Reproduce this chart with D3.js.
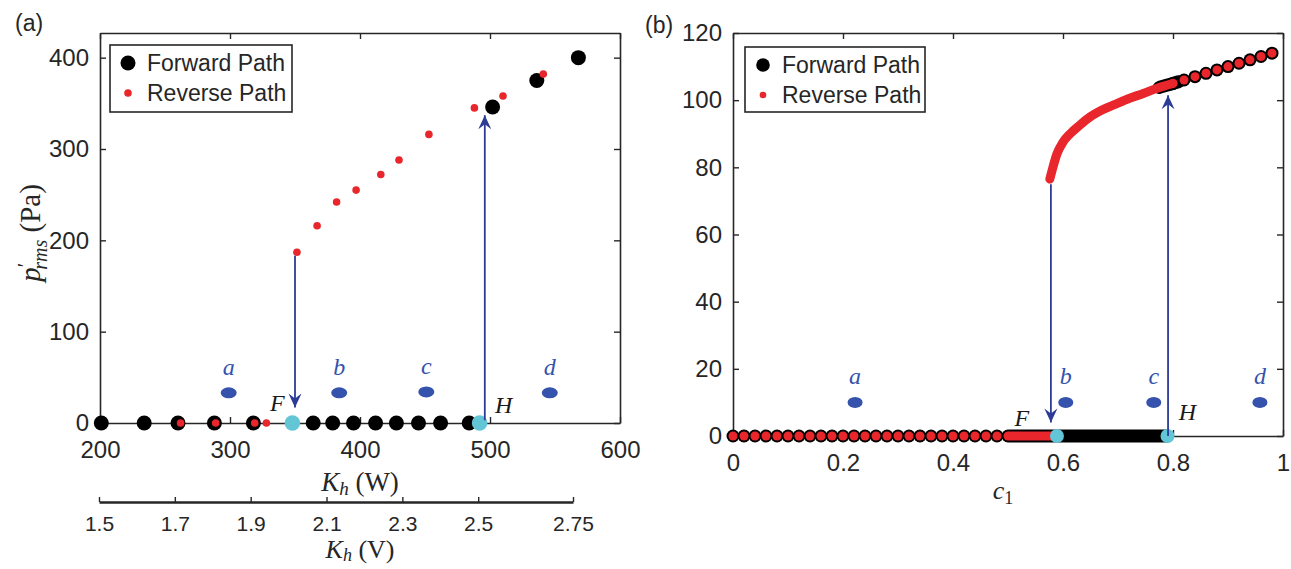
<!DOCTYPE html>
<html>
<head>
<meta charset="utf-8">
<script src="https://cdn.jsdelivr.net/npm/d3@7"></script>
<style>
body{margin:0;background:#fff}
text{font-family:"Liberation Sans",Arial,sans-serif;fill:#262626}
.math{font-family:"Liberation Serif","Times New Roman",serif}
</style>
</head>
<body>
<svg id="chart" width="1291" height="569"></svg>
<script>
// panel (a) data
var a_fwd_x = [201, 234, 260, 288, 318, 364, 379, 395, 412, 428, 445, 462, 484, 502, 536, 568];
var a_fwd_y = [0, 0, 0, 0, 0, 0, 0, 0, 0, 0, 0, 0, 0, 346, 375, 400];
var a_rev_x = [541, 510, 488, 453, 430, 416, 397, 382, 367, 351.5, 328, 319, 289, 262];
var a_rev_y = [382, 358, 345, 316, 288, 272, 255, 242, 216, 187, 0, 0, 0, 0];
var a_bif_x = [348, 492];
var a_bif_y = [0, 0];
var a_bif_labels = ["F", "H"];
var a_state_labels = ["a", "b", "c", "d"];
var a_state_x = [299, 384, 451, 546];
var a_state_y = [33, 33, 34, 33];
var a_arrow_x = [350, 496];
var a_arrow_from = [183, 3];
var a_arrow_to = [17, 337];
var a_xticks = [200, 300, 400, 500, 600];
var a_yticks = [0, 100, 200, 300, 400];
var a_vticks = [1.5, 1.7, 1.9, 2.1, 2.3, 2.5, 2.75];

// panel (b) data
var b_fwd_x = [0, 0.02, 0.04, 0.06, 0.08, 0.10, 0.12, 0.14, 0.16, 0.18, 0.20, 0.22, 0.24, 0.26, 0.28, 0.30, 0.32, 0.34, 0.36, 0.38, 0.40, 0.42, 0.44, 0.46, 0.48,
	0.80, 0.82, 0.84, 0.86, 0.88, 0.90, 0.92, 0.94, 0.96, 0.98];
var b_fwd_y = [0, 0, 0, 0, 0, 0, 0, 0, 0, 0, 0, 0, 0, 0, 0, 0, 0, 0, 0, 0, 0, 0, 0, 0, 0,
	105, 106, 107, 108, 109, 110, 111, 112, 113, 114];
var b_rev_x = b_fwd_x.slice();
var b_rev_y = b_fwd_y.slice();
// dense sweeps, drawn as thick bands
var b_fwd_low_x = [0.50, 0.79];
var b_fwd_low_y = [0, 0];
var b_rev_low_x = [0.50, 0.58];
var b_rev_low_y = [0, 0];
var b_fwd_up_x = [0.775, 0.79, 0.81];
var b_fwd_up_y = [103.8, 104.5, 105.5];
var b_rev_up_x = [0.576, 0.58, 0.589, 0.60, 0.613, 0.63, 0.649, 0.67, 0.698, 0.72, 0.746, 0.77, 0.79, 0.80];
var b_rev_up_y = [76.5, 79, 84, 87.5, 90, 92.5, 95, 97, 99, 100.5, 102, 103.5, 104.5, 105];
var b_bif_x = [0.589, 0.79];
var b_bif_y = [0, 0];
var b_bif_labels = ["F", "H"];
var b_state_labels = ["a", "b", "c", "d"];
var b_state_x = [0.222, 0.605, 0.765, 0.958];
var b_state_y = [10, 10, 10, 10];
var b_arrow_x = [0.578, 0.791];
var b_arrow_from = [75, 0];
var b_arrow_to = [4, 101.5];
var b_xticks = [0, 0.2, 0.4, 0.6, 0.8, 1];
var b_yticks = [0, 20, 40, 60, 80, 100, 120];

var BLUE = "#2c3c96";
var STATE = "#3552ad";
var CYAN = "#62c6d6";
var RED = "#e8262b";
var INK = "#262626";

var svg = d3.select("#chart");

svg.append("defs").append("marker")
	.attr("id", "head")
	.attr("viewBox", "-15 -7 17 14")
	.attr("refX", 0)
	.attr("refY", 0)
	.attr("markerWidth", 17)
	.attr("markerHeight", 14)
	.attr("markerUnits", "userSpaceOnUse")
	.attr("orient", "auto")
	.append("path")
	.attr("d", "M0,0 L-14,-6.5 L-9,0 L-14,6.5 Z")
	.attr("fill", BLUE);

function zip(xs, ys){
	return xs.map(function(d, i){ return {x: d, y: ys[i], i: i}; });
}

function drawFrame(g, x, y, xticks, yticks, fmt){
	var xr = x.range(), yr = y.range();
	var styleAxis = function(sel){
		sel.selectAll("path.domain").attr("stroke", INK).attr("stroke-width", 1.6);
		sel.selectAll(".tick line").attr("stroke", INK).attr("stroke-width", 1.4);
		sel.selectAll("text").style("font-size", "24px").attr("fill", INK);
	};
	g.append("g")
		.attr("transform", "translate(0," + yr[0] + ")")
		.call(d3.axisBottom(x).tickValues(xticks).tickSize(-6).tickSizeOuter(0).tickPadding(18).tickFormat(fmt))
		.call(styleAxis);
	g.append("g")
		.attr("transform", "translate(" + xr[0] + ",0)")
		.call(d3.axisLeft(y).tickValues(yticks).tickSize(-6).tickSizeOuter(0).tickPadding(11))
		.call(styleAxis);
	g.append("g")
		.attr("transform", "translate(0," + yr[1] + ")")
		.call(d3.axisTop(x).tickValues(xticks).tickSize(-6).tickSizeOuter(0).tickFormat(""))
		.call(styleAxis);
	g.append("g")
		.attr("transform", "translate(" + xr[1] + ",0)")
		.call(d3.axisRight(y).tickValues(yticks).tickSize(-6).tickSizeOuter(0).tickFormat(""))
		.call(styleAxis);
	g.selectAll(".domain").attr("fill", "none");
	g.selectAll(".tick text").attr("font-family", null);
}

function drawLegend(g, x0, y0, w, h, rBlack, rRed){
	g.append("rect")
		.attr("x", x0).attr("y", y0).attr("width", w).attr("height", h)
		.attr("fill", "#fff").attr("stroke", INK).attr("stroke-width", 1.6);
	var items = [{t: "Forward Path", c: "#000", r: rBlack}, {t: "Reverse Path", c: RED, r: rRed}];
	var it = g.selectAll("g.item").data(items).enter().append("g")
		.classed("item", true)
		.attr("transform", function(d, i){ return "translate(" + (x0 + 18) + "," + (y0 + 18 + i * 30) + ")"; });
	it.append("circle").attr("r", function(d){ return d.r; }).attr("fill", function(d){ return d.c; });
	it.append("text").attr("x", 19).attr("dy", "0.35em").style("font-size", "23px").text(function(d){ return d.t; });
}

function drawArrows(g, x, y, ax, from, to){
	g.selectAll("line.arrow").data(ax).enter().append("line")
		.classed("arrow", true)
		.attr("x1", function(d){ return x(d); })
		.attr("x2", function(d){ return x(d); })
		.attr("y1", function(d, i){ return y(from[i]); })
		.attr("y2", function(d, i){ return y(to[i]); })
		.attr("stroke", BLUE)
		.attr("stroke-width", 1.8)
		.attr("marker-end", "url(#head)");
}

function drawStates(g, x, y, labels, sx, sy, rx, ry){
	var st = zip(sx, sy);
	g.selectAll("ellipse.state").data(st).enter().append("ellipse")
		.classed("state", true)
		.attr("cx", function(d){ return x(d.x); })
		.attr("cy", function(d){ return y(d.y); })
		.attr("rx", rx).attr("ry", ry)
		.attr("fill", STATE);
	g.selectAll("text.state").data(st).enter().append("text")
		.classed("state math", true)
		.attr("x", function(d){ return x(d.x); })
		.attr("y", function(d){ return y(d.y) - 18; })
		.attr("text-anchor", "middle")
		.style("font-size", "24px")
		.style("font-style", "italic")
		.style("fill", STATE)
		.text(function(d){ return labels[d.i]; });
}

function drawBif(g, x, y, bx, by, labels, r, offs){
	var pts = zip(bx, by);
	g.selectAll("circle.bif").data(pts).enter().append("circle")
		.classed("bif", true)
		.attr("cx", function(d){ return x(d.x); })
		.attr("cy", function(d){ return y(d.y); })
		.attr("r", r)
		.attr("fill", CYAN);
	g.selectAll("text.bif").data(pts).enter().append("text")
		.classed("bif math", true)
		.attr("x", function(d){ return x(d.x) + offs[d.i][0]; })
		.attr("y", function(d){ return y(d.y) + offs[d.i][1]; })
		.attr("text-anchor", "middle")
		.style("font-size", "24px")
		.style("font-style", "italic")
		.style("fill", "#1a1a1a")
		.text(function(d){ return labels[d.i]; });
}

// ---------- panel (a)
var ga = svg.append("g");
var xa = d3.scaleLinear().domain([200, 600]).range([100, 620]);
var ya = d3.scaleLinear().domain([0, 427]).range([423, 33]);

drawFrame(ga, xa, ya, a_xticks, a_yticks, d3.format("d"));

ga.selectAll("circle.fwd").data(zip(a_fwd_x, a_fwd_y)).enter().append("circle")
	.classed("fwd", true)
	.attr("cx", function(d){ return xa(d.x); })
	.attr("cy", function(d){ return ya(d.y); })
	.attr("r", 7.5)
	.attr("fill", "#000");
ga.selectAll("circle.rev").data(zip(a_rev_x, a_rev_y)).enter().append("circle")
	.classed("rev", true)
	.attr("cx", function(d){ return xa(d.x); })
	.attr("cy", function(d){ return ya(d.y); })
	.attr("r", 3.8)
	.attr("fill", RED);

drawBif(ga, xa, ya, a_bif_x, a_bif_y, a_bif_labels, 7.8, [[-15, -12], [24, -10]]);
drawArrows(ga, xa, ya, a_arrow_x, a_arrow_from, a_arrow_to);
drawStates(ga, xa, ya, a_state_labels, a_state_x, a_state_y, 8, 5.5);
drawLegend(ga, 110, 45, 182, 67, 7.5, 3.8);

ga.append("text").attr("x", 15).attr("y", 31).style("font-size", "23px").text("(a)");

var ylab = ga.append("text")
	.classed("math", true)
	.attr("transform", "translate(40,233) rotate(-90)")
	.attr("text-anchor", "middle")
	.style("font-size", "29px");
ylab.append("tspan").style("font-style", "italic").text("p");
ylab.append("tspan").attr("dy", -8).style("font-size", "21px").text("′");
ylab.append("tspan").attr("dx", -7).attr("dy", 15).style("font-style", "italic").style("font-size", "20px").text("rms");
ylab.append("tspan").attr("dy", -7).text(" (Pa)");

var xlabW = ga.append("text")
	.classed("math", true)
	.attr("x", 360).attr("y", 491)
	.attr("text-anchor", "middle")
	.style("font-size", "27px");
xlabW.append("tspan").style("font-style", "italic").text("K");
xlabW.append("tspan").attr("dy", 4).style("font-style", "italic").style("font-size", "19px").text("h");
xlabW.append("tspan").attr("dy", -4).text(" (W)");

// secondary axis for heater voltage
var xv = d3.scaleLinear().domain([1.5, 2.75]).range([99, 573]);
var gv = ga.append("g")
	.attr("transform", "translate(0,502)")
	.call(d3.axisBottom(xv).tickValues(a_vticks).tickSize(-5).tickSizeOuter(0).tickPadding(14).tickFormat(d3.format("~g")));
gv.select("path.domain").attr("stroke", INK).attr("stroke-width", 2.4).attr("fill", "none");
gv.selectAll(".tick line").attr("stroke", INK).attr("stroke-width", 1.4);
gv.selectAll("text").attr("font-family", null).style("font-size", "21px").attr("fill", INK);

var xlabV = ga.append("text")
	.classed("math", true)
	.attr("x", 360).attr("y", 558)
	.attr("text-anchor", "middle")
	.style("font-size", "26px");
xlabV.append("tspan").style("font-style", "italic").text("K");
xlabV.append("tspan").attr("dy", 3).style("font-style", "italic").style("font-size", "18px").text("h");
xlabV.append("tspan").attr("dy", -3).text(" (V)");

// ---------- panel (b)
var gb = svg.append("g");
var xb = d3.scaleLinear().domain([0, 1]).range([733, 1283]);
var yb = d3.scaleLinear().domain([0, 120]).range([436, 33]);

drawFrame(gb, xb, yb, b_xticks, b_yticks, d3.format("~g"));

var band = d3.line()
	.x(function(d){ return xb(d.x); })
	.y(function(d){ return yb(d.y); })
	.curve(d3.curveMonotoneX);

[[b_fwd_low_x, b_fwd_low_y, "#000", 13],
 [b_fwd_up_x, b_fwd_up_y, "#000", 13]].forEach(function(b){
	gb.append("path")
		.attr("d", band(zip(b[0], b[1])))
		.attr("fill", "none")
		.attr("stroke", b[2])
		.attr("stroke-width", b[3])
		.attr("stroke-linecap", "round");
});

gb.selectAll("circle.fwd").data(zip(b_fwd_x, b_fwd_y)).enter().append("circle")
	.classed("fwd", true)
	.attr("cx", function(d){ return xb(d.x); })
	.attr("cy", function(d){ return yb(d.y); })
	.attr("r", 6.5)
	.attr("fill", "#000");

[[b_rev_low_x, b_rev_low_y, RED, 9],
 [b_rev_up_x, b_rev_up_y, RED, 9]].forEach(function(b){
	gb.append("path")
		.attr("d", band(zip(b[0], b[1])))
		.attr("fill", "none")
		.attr("stroke", b[2])
		.attr("stroke-width", b[3])
		.attr("stroke-linecap", "round");
});

gb.selectAll("circle.rev").data(zip(b_rev_x, b_rev_y)).enter().append("circle")
	.classed("rev", true)
	.attr("cx", function(d){ return xb(d.x); })
	.attr("cy", function(d){ return yb(d.y); })
	.attr("r", 4.5)
	.attr("fill", RED);

drawBif(gb, xb, yb, b_bif_x, b_bif_y, b_bif_labels, 7, [[-35, -10], [20, -16]]);
drawArrows(gb, xb, yb, b_arrow_x, b_arrow_from, b_arrow_to);
drawStates(gb, xb, yb, b_state_labels, b_state_x, b_state_y, 7.5, 5.5);
drawLegend(gb, 745, 47, 180, 65, 6.8, 3.3);

gb.append("text").attr("x", 645).attr("y", 33).style("font-size", "23px").text("(b)");

var xlabC = gb.append("text")
	.classed("math", true)
	.attr("x", 1003).attr("y", 499)
	.attr("text-anchor", "middle")
	.style("font-size", "26px");
xlabC.append("tspan").style("font-style", "italic").text("c");
xlabC.append("tspan").attr("dy", 5).style("font-size", "18px").text("1");
</script>
</body>
</html>
